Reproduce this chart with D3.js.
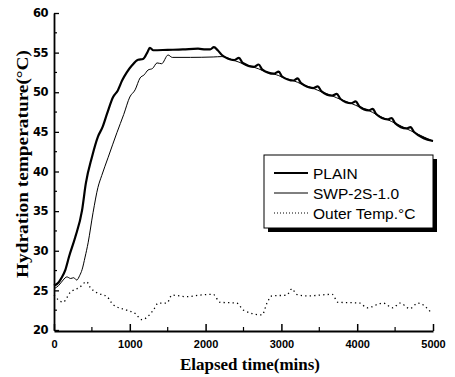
<!DOCTYPE html>
<html>
<head>
<meta charset="utf-8">
<script src="https://cdn.jsdelivr.net/npm/d3@7"></script>
<style>
  body { margin: 0; background: #fff; }
  svg { display: block; }
</style>
</head>
<body>
<svg id="plot"></svg>
<script>
const width = 455;
const height = 377;

// plot area (pixels)
const plotLeft = 54, plotRight = 433, plotTop = 13, plotBottom = 330;

// PLAIN (thick line)
const plainTime = [0, 60, 100, 150, 200, 280, 370, 420, 500, 580, 640, 700, 780, 840, 900, 960, 1030, 1110, 1175, 1230, 1265, 1310, 1500, 1700, 1900, 2000, 2060, 2110, 2160, 2215,
  2380, 2440, 2490, 2640, 2700, 2750, 2900, 2965, 3010, 3160, 3215, 3260, 3420, 3480, 3530, 3670, 3730, 3780,
  3920, 3980, 4030, 4150, 4205, 4250, 4400, 4455, 4500, 4650, 4705, 4750, 5000];
const plainTemp = [25.6, 26.0, 26.6, 27.6, 29.3, 31.7, 35.1, 38.5, 41.8, 44.4, 45.6, 47.3, 49.4, 50.2, 51.5, 52.5, 53.4, 54.1, 54.2, 55.0, 55.6, 55.3, 55.35, 55.4, 55.5, 55.4, 55.4, 55.7, 55.3, 54.7,
  54.06, 54.35, 53.69, 53.2, 53.5, 52.84, 52.34, 52.6, 51.98, 51.48, 51.75, 51.14, 50.53, 50.75, 50.11, 49.57, 49.8, 49.15,
  48.61, 48.85, 48.18, 47.71, 47.9, 47.25, 46.57, 46.75, 46.11, 45.43, 45.6, 44.98, 43.85];

// SWP-2S-1.0 (thin line)
const swpTime = [0, 60, 120, 170, 220, 260, 300, 340, 370, 410, 450, 515, 580, 630, 715, 830, 920, 1000, 1070, 1135, 1190, 1240, 1300, 1360, 1420, 1505, 1560, 1800, 2100, 2215,
  2380, 2440, 2490, 2640, 2700, 2750, 2900, 2965, 3010, 3160, 3215, 3260, 3420, 3480, 3530, 3670, 3730, 3780,
  3920, 3980, 4030, 4150, 4205, 4250, 4400, 4455, 4500, 4650, 4705, 4750, 5000];
const swpTemp = [25.2, 25.6, 26.3, 26.7, 26.5, 26.6, 26.3, 26.9, 27.6, 29.2, 31.0, 34.8, 38.0, 39.5, 41.8, 44.9, 47.2, 49.4, 50.3, 51.8, 52.2, 52.8, 53.0, 53.7, 53.6, 54.7, 54.4, 54.4, 54.45, 54.5,
  54.0, 53.8, 53.6, 53.15, 52.95, 52.75, 52.3, 52.1, 51.9, 51.45, 51.25, 51.05, 50.5, 50.25, 50.05, 49.55, 49.3, 49.1,
  48.6, 48.35, 48.15, 47.7, 47.45, 47.2, 46.55, 46.3, 46.1, 45.4, 45.15, 44.95, 43.8];

// Outer Temp. (dotted)
const outerTime = [0, 120, 210, 340, 430, 475, 565, 700, 780, 960, 1070, 1160, 1225, 1310, 1375, 1490, 1555, 1750, 1925, 2100, 2190, 2410, 2500, 2745, 2810, 2875, 3070, 3140, 3200, 3340, 3670, 3745, 4035, 4130, 4340, 4470, 4565, 4695, 4800, 4985];
const outerTemp = [24.4, 23.5, 24.7, 25.4, 26.1, 25.4, 24.7, 24.2, 23.2, 22.5, 22.1, 21.3, 21.6, 22.5, 23.4, 23.4, 24.4, 24.2, 24.4, 24.5, 23.5, 23.4, 22.5, 21.9, 23.4, 24.3, 24.4, 25.2, 24.5, 24.3, 24.5, 23.5, 23.4, 22.8, 23.4, 22.8, 23.4, 22.7, 23.4, 22.1];

const xTicks = [0, 1000, 2000, 3000, 4000, 5000];
const yTicks = [20, 25, 30, 35, 40, 45, 50, 55, 60];

const legendLabels = ['PLAIN', 'SWP-2S-1.0', 'Outer Temp.\u00B0C'];

let svg, sx, sy;

function main(){
  svg = d3.select('svg#plot')
  .attr('width', width)
  .attr('height', height);

  sx = d3.scaleLinear().domain([0, 5000]).range([plotLeft, plotRight]);
  sy = d3.scaleLinear().domain([20, 60]).range([plotBottom, plotTop]);

  drawAxes();
  drawLines();
  drawLegend();
}

function drawAxes(){
  // minor ticks
  let xMinor = d3.range(500, 5000, 1000);
  let yMinor = d3.range(22.5, 60, 5);

  let xAxis = d3.axisBottom(sx).tickValues(xTicks).tickSizeInner(-7).tickSizeOuter(0).tickFormat(d3.format('d'));
  let gx = svg.append('g')
  .attr('transform', `translate(0,${plotBottom + 1})`)
  .call(xAxis);
  gx.select('.domain').attr('stroke-width', 2).attr('stroke', '#000');
  gx.selectAll('.tick line').attr('stroke-width', 1.5);
  gx.selectAll('.tick text')
  .attr('y', 9)
  .attr('dy', '0.71em')
  .attr('font-family', 'Liberation Sans, Arial, sans-serif')
  .attr('font-weight', 'bold')
  .attr('font-size', 11)
  .attr('fill', '#000');

  gx.selectAll('.minor')
  .data(xMinor)
  .enter()
  .append('line')
  .attr('class', 'minor')
  .attr('x1', d=>sx(d)).attr('x2', d=>sx(d))
  .attr('y1', 0).attr('y2', -4)
  .attr('stroke', '#000').attr('stroke-width', 1.2);

  let yAxis = d3.axisLeft(sy).tickValues(yTicks).tickSizeInner(-5).tickSizeOuter(0);
  let gy = svg.append('g')
  .attr('transform', `translate(${plotLeft},0)`)
  .call(yAxis);
  gy.select('.domain').attr('stroke-width', 1.8).attr('stroke', '#000');
  gy.selectAll('.tick line').attr('stroke-width', 1.3);
  gy.selectAll('.tick text')
  .attr('x', -6)
  .attr('font-family', 'DejaVu Sans, sans-serif')
  .attr('font-weight', 'bold')
  .attr('font-size', 11.5)
  .attr('letter-spacing', -0.5)
  .attr('fill', '#000');

  gy.selectAll('.minor')
  .data(yMinor)
  .enter()
  .append('line')
  .attr('class', 'minor')
  .attr('x1', 0).attr('x2', 3)
  .attr('y1', d=>sy(d)).attr('y2', d=>sy(d))
  .attr('stroke', '#000').attr('stroke-width', 1.2);

  // axis titles
  svg.append('text')
  .attr('x', 250)
  .attr('y', 370)
  .attr('text-anchor', 'middle')
  .attr('font-family', 'Liberation Serif, Times New Roman, serif')
  .attr('font-weight', 'bold')
  .attr('font-size', 17.5)
  .attr('textLength', 140)
  .attr('lengthAdjust', 'spacingAndGlyphs')
  .text('Elapsed time(mins)');

  svg.append('text')
  .attr('transform', 'translate(28,164) rotate(-90)')
  .attr('text-anchor', 'middle')
  .attr('font-family', 'Liberation Serif, Times New Roman, serif')
  .attr('font-weight', 'bold')
  .attr('font-size', 17.5)
  .attr('textLength', 228)
  .attr('lengthAdjust', 'spacingAndGlyphs')
  .text('Hydration temperature(\u00B0C)');
}

function drawLines(){
  let line = d3.line()
  .x(d=>sx(d[0]))
  .y(d=>sy(d[1]))
  .curve(d3.curveMonotoneX);

  svg.append('path')
  .datum(d3.zip(outerTime, outerTemp))
  .attr('d', line)
  .attr('fill', 'none')
  .attr('stroke', '#000')
  .attr('stroke-width', 1.3)
  .attr('stroke-dasharray', '1.3,3.2');

  svg.append('path')
  .datum(d3.zip(swpTime, swpTemp))
  .attr('d', line)
  .attr('fill', 'none')
  .attr('stroke', '#000')
  .attr('stroke-width', 1);

  svg.append('path')
  .datum(d3.zip(plainTime, plainTemp))
  .attr('d', line)
  .attr('fill', 'none')
  .attr('stroke', '#000')
  .attr('stroke-width', 2.2);
}

function drawLegend(){
  let lx = 264, ly = 155, lw = 169, lh = 73;
  // shadow
  svg.append('rect')
  .attr('x', lx + 4).attr('y', ly + 4)
  .attr('width', lw).attr('height', lh)
  .attr('fill', '#000');
  svg.append('rect')
  .attr('x', lx).attr('y', ly)
  .attr('width', lw).attr('height', lh)
  .attr('fill', '#fff')
  .attr('stroke', '#000')
  .attr('stroke-width', 1);

  let styles = [
    {w: 2, dash: null},
    {w: 1, dash: null},
    {w: 1, dash: '1,2'}
  ];

  let rows = svg.selectAll('.legendRow')
  .data(legendLabels)
  .enter()
  .append('g')
  .attr('class', 'legendRow')
  .attr('transform', (d,i)=>`translate(${lx},${ly + 18 + i*20})`);

  rows.append('line')
  .attr('x1', 10).attr('x2', 44)
  .attr('y1', 0).attr('y2', 0)
  .attr('stroke', '#000')
  .attr('stroke-width', (d,i)=>styles[i].w)
  .attr('stroke-dasharray', (d,i)=>styles[i].dash);

  rows.append('text')
  .attr('x', 49)
  .attr('y', 6)
  .attr('font-family', 'Liberation Sans, Arial, sans-serif')
  .attr('font-size', 15.5)
  .attr('fill', '#000')
  .text(d=>d);
}

document.addEventListener('DOMContentLoaded', main);
</script>
</body>
</html>
